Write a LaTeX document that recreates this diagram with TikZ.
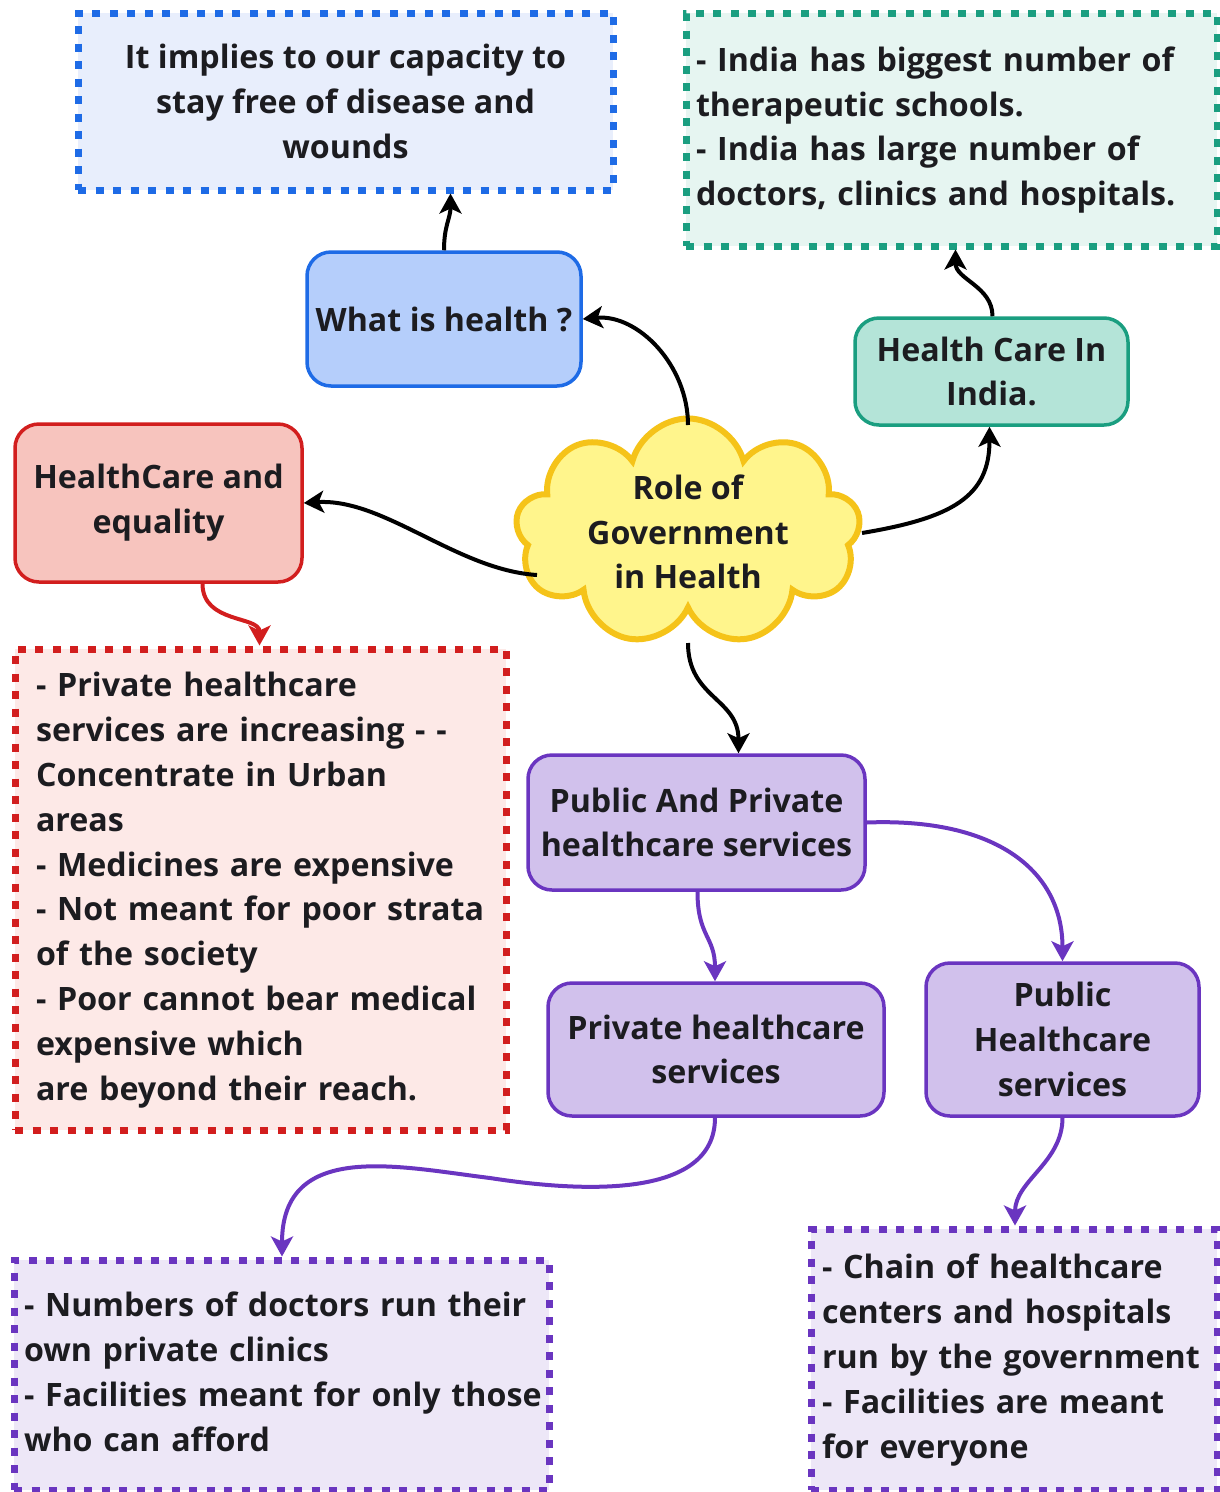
\documentclass[tikz,border=0pt]{standalone}
\usepackage{fontspec}
\setmainfont{Open Sans}
\usetikzlibrary{shapes.symbols,arrows.meta,calc}
\definecolor{ink}{RGB}{28,28,32}
\definecolor{bluebd}{RGB}{30,107,230}
\definecolor{bluelt}{RGB}{232,238,252}
\definecolor{bluefl}{RGB}{181,206,251}
\definecolor{tealbd}{RGB}{26,158,128}
\definecolor{teallt}{RGB}{230,245,241}
\definecolor{tealfl}{RGB}{180,228,216}
\definecolor{redbd}{RGB}{210,30,30}
\definecolor{redlt}{RGB}{253,233,231}
\definecolor{redfl}{RGB}{247,196,190}
\definecolor{cloudbd}{RGB}{245,195,25}
\definecolor{cloudfl}{RGB}{255,245,140}
\definecolor{purbd}{RGB}{106,53,192}
\definecolor{purlt}{RGB}{237,231,247}
\definecolor{purfl}{RGB}{209,193,236}
\newcommand\myleftlines[1]{\noindent\begin{tabular}{@{}l@{}}#1\end{tabular}}
\begin{document}
\begin{tikzpicture}[x=1pt,y=-1pt,
  txt/.style={font=\fontsize{32.2}{44.8}\selectfont\bfseries, text=ink},
  rbox/.style={txt, draw, rounded corners=24pt, line width=3.5pt, align=center, inner sep=0pt},
  dbox/.style={txt, draw, line width=7pt, dash pattern=on 8pt off 9.5pt, inner sep=0pt},
  lbox/.style={dbox, align=left, inner ysep=0pt},
  conn/.style={line width=4pt, -{Stealth[length=20pt,width=22pt,inset=5pt]}},
]
\useasboundingbox (0,0) rectangle (1220,1492);

% top-left definition box
\node[dbox, draw=bluebd, fill=bluelt, minimum width=535pt, minimum height=177pt, align=center] (A) at (345.5,101.5)
  {It implies to our capacity to\\stay free of disease and\\wounds};
% what is health
\node[rbox, draw=bluebd, fill=bluefl, minimum width=274pt, minimum height=134pt] (wh) at (444,319)
  {What is health ?};
% teal info box
\node[lbox, draw=tealbd, fill=teallt, minimum height=233pt, inner xsep=10pt, text width=511pt] (T) at (951.5,129.5)
  {\myleftlines{- India has biggest number of\\therapeutic schools.\\- India has large number of\\doctors, clinics and hospitals.}};
% health care in india
\node[rbox, draw=tealbd, fill=tealfl, minimum width=273pt, minimum height=107pt] (hc) at (991.5,371.5)
  {Health Care In\\India.};
% healthcare and equality
\node[rbox, draw=redbd, fill=redfl, minimum width=287pt, minimum height=158pt] (he) at (158.5,503)
  {HealthCare and\\equality};
% red info box
\node[lbox, draw=redbd, fill=redlt, minimum height=481pt, inner xsep=21pt, text width=449pt] (R) at (260.5,889.5)
  {\myleftlines{- Private healthcare\\services are increasing - -\\Concentrate in Urban\\areas\\- Medicines are expensive\\- Not meant for poor strata\\of the society\\- Poor cannot bear medical\\expensive which\\are beyond their reach.}};
% central cloud
\node[cloud, cloud puffs=9, cloud ignores aspect, draw=cloudbd, fill=cloudfl, line width=6pt,
      minimum width=345pt, minimum height=214pt, txt, align=center, inner sep=0pt] (cl) at (688,532)
  {Role of\\Government\\in Health};
% public and private
\node[rbox, draw=purbd, fill=purfl, minimum width=337pt, minimum height=135pt] (pap) at (696.5,822.5)
  {Public And Private\\healthcare services};
% private healthcare services
\node[rbox, draw=purbd, fill=purfl, minimum width=336pt, minimum height=133pt] (pv) at (716,1049.5)
  {Private healthcare\\services};
% public healthcare services
\node[rbox, draw=purbd, fill=purfl, minimum width=273pt, minimum height=153pt] (pb) at (1062.5,1039.5)
  {Public\\Healthcare\\services};
% bottom-left info
\node[lbox, draw=purbd, fill=purlt, minimum height=230pt, inner xsep=10pt, text width=515pt] (BL) at (281.5,1375)
  {\myleftlines{- Numbers of doctors run their\\own private clinics\\- Facilities meant for only those\\who can afford}};
% bottom-right info
\node[lbox, draw=purbd, fill=purlt, minimum height=261pt, inner xsep=11pt, text width=384pt] (BR) at (1014,1359.5)
  {\myleftlines{- Chain of healthcare\\centers and hospitals\\run by the government\\- Facilities are meant\\for everyone}};

\coordinate (m1) at (490,1178);

% connectors
\draw[conn] (wh.north) .. controls +(0,-25) and +(0,25) .. ([xshift=105pt]A.south);
\draw[conn] ($(cl.center)+(0,-107)$) .. controls +(0,-60) and +(55,-5) .. (wh.east);
\draw[conn] ($(cl.center)+(-151,43)$) .. controls +(-80,-5) and +(80,-5) .. (he.east);
\draw[conn] ($(cl.center)+(174,1)$) .. controls +(90,-15) and +(0,70) .. ([xshift=-2pt]hc.south);
\draw[conn] ([xshift=1pt]hc.north) .. controls +(0,-30) and +(0,30) .. ([xshift=4pt]T.south);
\draw[conn] ($(cl.center)+(0,111)$) .. controls +(0,55) and +(0,-55) .. ([xshift=42pt]pap.north);
\draw[conn, redbd] ([xshift=44pt]he.south) .. controls +(0,40) and +(0,-30) .. ([xshift=-1pt]R.north);
\draw[conn, purbd] ([xshift=1pt]pap.south) .. controls +(0,45) and +(0,-45) .. ([xshift=-1pt]pv.north);
\draw[conn, purbd] (pap.east) .. controls +(130,-5) and +(0,-90) .. (pb.north);
\draw[conn, purbd] ([xshift=-1pt]pv.south) .. controls +(0,82) and +(90,14) .. (m1)
   .. controls +(-90,-11) and +(0,-117) .. ([xshift=0.5pt]BL.north);
\draw[conn, purbd] (pb.south) .. controls +(0,45) and +(0,-45) .. ([xshift=1pt]BR.north);
\end{tikzpicture}
\end{document}
